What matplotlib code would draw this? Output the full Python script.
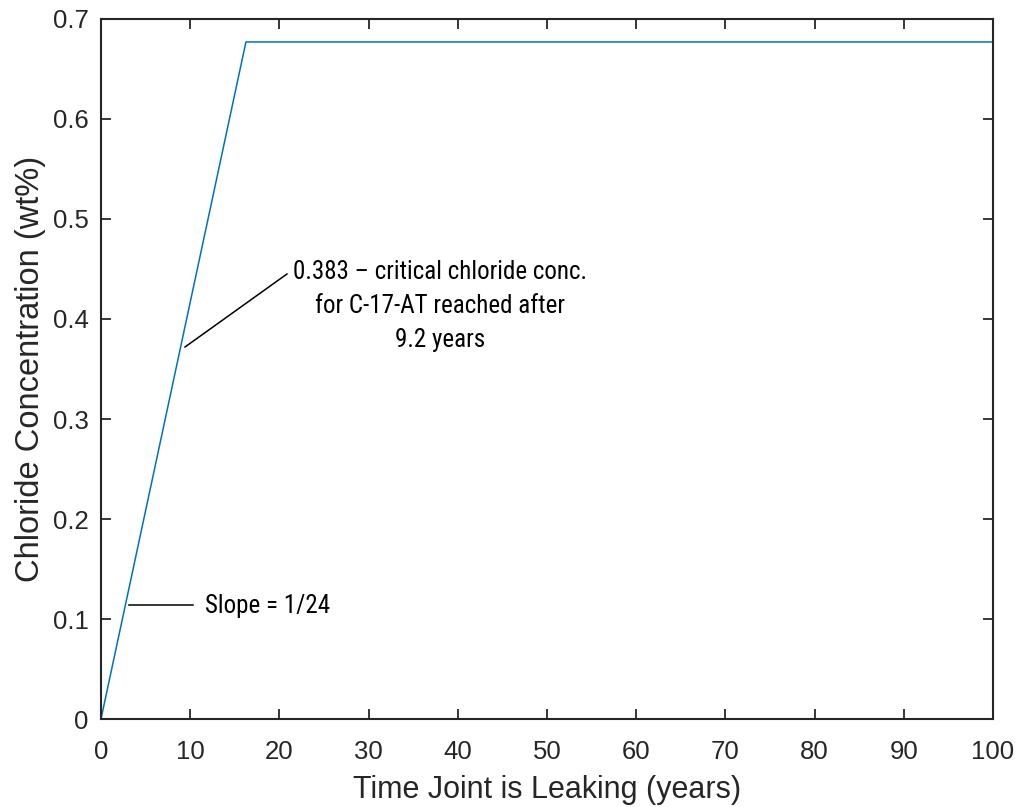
import matplotlib
matplotlib.use("Agg")
import matplotlib.pyplot as plt
from matplotlib import font_manager

years = [0, 16.25, 100]
chloride = [0, 0.677, 0.677]
xticks = [0, 10, 20, 30, 40, 50, 60, 70, 80, 90, 100]
yticks = [0, 0.1, 0.2, 0.3, 0.4, 0.5, 0.6, 0.7]

crit_text = "0.383 \u2013 critical chloride conc.\nfor C-17-AT reached after\n9.2 years"
crit_tip = (9.42, 0.372)
crit_line_end = (20.85, 0.445)
crit_text_pos = (38.0, 0.413)
slope_text = "Slope = 1/24"
slope_tip = (3.1, 0.114)
slope_line_end = (10.3, 0.114)
slope_text_pos = (11.7, 0.113)

fonts = font_manager.fontManager.ttflist
names = {f.name for f in fonts}
narrow = None
for cand in ["Liberation Sans Narrow", "Arial Narrow", "Roboto Condensed",
             "Open Sans Condensed", "Noto Sans Condensed", "DejaVu Sans Condensed"]:
    if cand in names:
        narrow = cand
        break
if narrow is not None:
    ann_font = dict(family=[narrow, 'DejaVu Sans'], fontsize=18)
else:
    ann_font = dict(family=['Liberation Sans', 'DejaVu Sans'], fontsize=16)

plt.rcParams['font.family'] = ['Liberation Sans', 'DejaVu Sans']

fig = plt.figure(figsize=(10.18, 8.07), dpi=100)
ax = fig.add_axes([0.0992, 0.1090, 0.9754 - 0.0992, 0.9765 - 0.1090])
ax.plot(years, chloride, color="#0072BD", lw=1.1)
ax.set_xlim(0, 100)
ax.set_ylim(0, 0.7)
ax.set_xticks(xticks)
ax.set_yticks(yticks)
ax.set_xticklabels([str(v) for v in xticks])
ax.set_yticklabels(["0" if v == 0 else f"{v:.1f}" for v in yticks])
ax.tick_params(direction="in", length=7, width=1.3, top=True, right=True,
               labelsize=18.5, colors="#262626")
ax.tick_params(axis="x", pad=15)
ax.tick_params(axis="y", pad=9)
for s in ax.spines.values():
    s.set_linewidth(1.5)
    s.set_color("#262626")
ax.set_xlabel("Time Joint is Leaking (years)", fontsize=22, color="#262626", labelpad=8)
ax.set_ylabel("Chloride Concentration (wt%)", fontsize=23.5, color="#262626", labelpad=5)

ax.plot([crit_tip[0], crit_line_end[0]], [crit_tip[1], crit_line_end[1]], color="black", lw=1.1)
ax.text(crit_text_pos[0], crit_text_pos[1], crit_text, ha="center", va="center",
        linespacing=1.55, color="black", **ann_font)
ax.plot([slope_tip[0], slope_line_end[0]], [slope_tip[1], slope_line_end[1]], color="black", lw=1.1)
ax.text(slope_text_pos[0], slope_text_pos[1], slope_text, ha="left", va="center",
        color="black", **ann_font)

fig.savefig("out.png", dpi=100)
